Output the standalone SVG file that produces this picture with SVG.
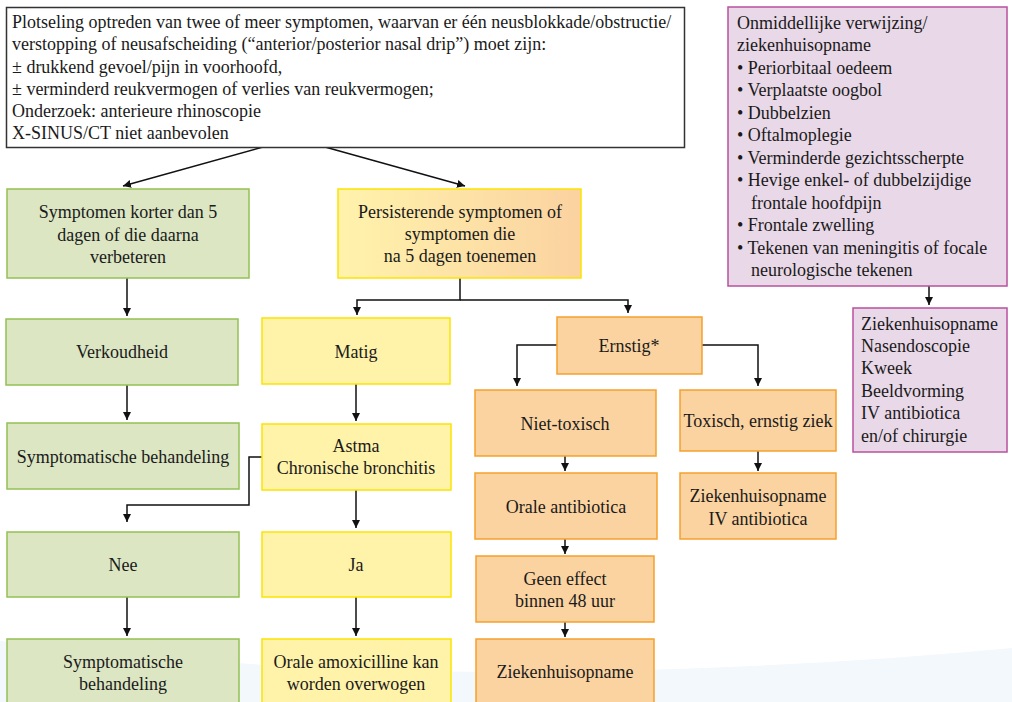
<svg xmlns="http://www.w3.org/2000/svg" width="1012" height="702" viewBox="0 0 1012 702">
<defs>
<linearGradient id="gPers" x1="0" y1="0" x2="1" y2="0">
<stop offset="0" stop-color="#fff3ac"/>
<stop offset="1" stop-color="#fbd2a0"/>
</linearGradient>
<marker id="arr" markerWidth="9" markerHeight="9" refX="8" refY="4" orient="auto" markerUnits="userSpaceOnUse">
<path d="M0,0 L8,4 L0,8 z" fill="#111"/>
</marker>
<style>
text{font-family:'Liberation Serif','Times New Roman',serif;font-size:18px;fill:#1a1a1a}
.c{text-anchor:middle}
.box{stroke-width:1.5}
.top{fill:#fff;stroke:#333}
.green{fill:#dce6c3;stroke:#94c052}
.yellow{fill:#fff3aa;stroke:#fbe400}
.pers{fill:url(#gPers);stroke:#fbe400}
.orange{fill:#fbd3a1;stroke:#f5a12c}
.purple{fill:#e9d8e8;stroke:#b8509e}
.conn{fill:none;stroke:#111;stroke-width:1.5;marker-end:url(#arr)}
</style>
</defs>
<rect width="1012" height="702" fill="#fff"/>
<path d="M0,641 Q250,672 520,672 Q780,670 1012,648 V702 H0 Z" fill="#f3f8fc"/>

<g id="connectors">
<path class="conn" d="M263,147 L123,186"/>
<path class="conn" d="M325,147 L465,186"/>
<path class="conn" d="M127,278 V316"/>
<path class="conn" d="M127,385 V420"/>
<path class="conn" d="M460,278 V300 H357 V315"/>
<path class="conn" d="M460,300 H628 V313"/>
<path class="conn" d="M356,384 V421"/>
<path class="conn" d="M262,457 H249 V505 H127 V522"/>
<path class="conn" d="M356,490 V528"/>
<path class="conn" d="M127,597 V636"/>
<path class="conn" d="M356,597 V636"/>
<path class="conn" d="M557,345 H517 V386"/>
<path class="conn" d="M702,345 H758 V386"/>
<path class="conn" d="M565,456 V471"/>
<path class="conn" d="M758,451 V471"/>
<path class="conn" d="M565,539 V554"/>
<path class="conn" d="M565,622 V637"/>
<path class="conn" d="M929,286 V305"/>
</g>

<g id="n-top">
<rect class="box top" x="6.5" y="7.5" width="678" height="140"/>
<text x="12" y="28">Plotseling optreden van twee of meer symptomen, waarvan er één neusblokkade/obstructie/</text>
<text x="12" y="50">verstopping of neusafscheiding (“anterior/posterior nasal drip”) moet zijn:</text>
<text x="12" y="73">± drukkend gevoel/pijn in voorhoofd,</text>
<text x="12" y="95">± verminderd reukvermogen of verlies van reukvermogen;</text>
<text x="12" y="117">Onderzoek: anterieure rhinoscopie</text>
<text x="12" y="139">X-SINUS/CT niet aanbevolen</text>
</g>

<g id="n-kort">
<rect class="box green" x="7" y="189" width="242" height="89"/>
<text class="c" x="128" y="218">Symptomen korter dan 5</text>
<text class="c" x="128" y="241">dagen of die daarna</text>
<text class="c" x="128" y="263">verbeteren</text>
</g>

<g id="n-pers">
<rect class="box pers" x="338" y="189" width="243" height="89"/>
<text class="c" x="460" y="218">Persisterende symptomen of</text>
<text class="c" x="460" y="240">symptomen die</text>
<text class="c" x="460" y="262">na 5 dagen toenemen</text>
</g>

<g id="n-verk">
<rect class="box green" x="6" y="319" width="232" height="66"/>
<text class="c" x="122" y="358">Verkoudheid</text>
</g>

<g id="n-matig">
<rect class="box yellow" x="262" y="318" width="188" height="66"/>
<text class="c" x="356" y="358">Matig</text>
</g>

<g id="n-symp1">
<rect class="box green" x="7" y="423" width="232" height="66"/>
<text class="c" x="123" y="463">Symptomatische behandeling</text>
</g>

<g id="n-astma">
<rect class="box yellow" x="262" y="424" width="189" height="66"/>
<text class="c" x="356" y="452">Astma</text>
<text class="c" x="356" y="474">Chronische bronchitis</text>
</g>

<g id="n-nee">
<rect class="box green" x="7" y="532" width="232" height="65"/>
<text class="c" x="123" y="571">Nee</text>
</g>

<g id="n-ja">
<rect class="box yellow" x="262" y="532" width="189" height="65"/>
<text class="c" x="356" y="571">Ja</text>
</g>

<g id="n-symp2">
<rect class="box green" x="7" y="639" width="232" height="72"/>
<text class="c" x="123" y="668">Symptomatische</text>
<text class="c" x="123" y="690">behandeling</text>
</g>

<g id="n-amox">
<rect class="box yellow" x="262" y="639" width="189" height="72"/>
<text class="c" x="356" y="668">Orale amoxicilline kan</text>
<text class="c" x="356" y="690">worden overwogen</text>
</g>

<g id="n-ernstig">
<rect class="box orange" x="557" y="317" width="145" height="57"/>
<text class="c" x="629" y="352">Ernstig*</text>
</g>

<g id="n-niettox">
<rect class="box orange" x="475" y="390" width="181" height="66"/>
<text class="c" x="565" y="430">Niet-toxisch</text>
</g>

<g id="n-tox">
<rect class="box orange" x="680" y="390" width="156" height="61"/>
<text class="c" x="758" y="427">Toxisch, ernstig ziek</text>
</g>

<g id="n-oraleab">
<rect class="box orange" x="475" y="473" width="182" height="66"/>
<text class="c" x="566" y="513">Orale antibiotica</text>
</g>

<g id="n-zkiv">
<rect class="box orange" x="680" y="473" width="156" height="66"/>
<text class="c" x="758" y="502">Ziekenhuisopname</text>
<text class="c" x="758" y="525">IV antibiotica</text>
</g>

<g id="n-geen">
<rect class="box orange" x="476" y="556" width="178" height="66"/>
<text class="c" x="565" y="585">Geen effect</text>
<text class="c" x="565" y="607">binnen 48 uur</text>
</g>

<g id="n-zk">
<rect class="box orange" x="476" y="639" width="178" height="72"/>
<text class="c" x="565" y="678">Ziekenhuisopname</text>
</g>

<g id="n-verwijzing">
<rect class="box purple" x="728" y="7" width="279" height="279"/>
<text x="737" y="29">Onmiddellijke verwijzing/</text>
<text x="737" y="51">ziekenhuisopname</text>
<text x="737" y="74">• Periorbitaal oedeem</text>
<text x="737" y="96">• Verplaatste oogbol</text>
<text x="737" y="119">• Dubbelzien</text>
<text x="737" y="141">• Oftalmoplegie</text>
<text x="737" y="164">• Verminderde gezichtsscherpte</text>
<text x="737" y="186">• Hevige enkel- of dubbelzijdige</text>
<text x="751" y="209">frontale hoofdpijn</text>
<text x="737" y="231">• Frontale zwelling</text>
<text x="737" y="254">• Tekenen van meningitis of focale</text>
<text x="751" y="276">neurologische tekenen</text>
</g>

<g id="n-zkmaatregelen">
<rect class="box purple" x="853" y="308" width="154" height="144"/>
<text x="861" y="330">Ziekenhuisopname</text>
<text x="861" y="352">Nasendoscopie</text>
<text x="861" y="374">Kweek</text>
<text x="861" y="397">Beeldvorming</text>
<text x="861" y="419">IV antibiotica</text>
<text x="861" y="442">en/of chirurgie</text>
</g>
</svg>
